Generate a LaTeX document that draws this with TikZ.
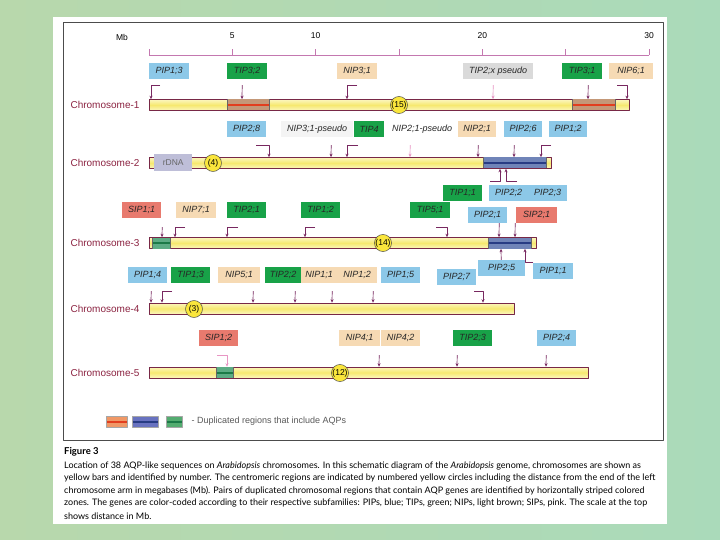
\documentclass[tikz,border=0pt]{standalone}
\usepackage{fontspec}
\setmainfont{Liberation Sans}
\newfontfamily\capfont{Lato}
\usetikzlibrary{arrows.meta}
\definecolor{bgleft}{RGB}{184,216,172}
\definecolor{bgright}{RGB}{170,218,186}
\definecolor{pipblue}{RGB}{140,200,232}
\definecolor{tipgreen}{RGB}{24,162,72}
\definecolor{niptan}{RGB}{246,218,180}
\definecolor{sippink}{RGB}{232,122,110}
\definecolor{pseudogray}{RGB}{218,218,218}
\definecolor{pseudolight}{RGB}{244,244,244}
\definecolor{rdnagray}{RGB}{190,190,216}
\definecolor{barpale}{RGB}{252,246,190}
\definecolor{baryellow}{RGB}{246,232,112}
\definecolor{barline}{RGB}{120,40,70}
\definecolor{chrred}{RGB}{140,36,66}
\definecolor{connc}{RGB}{120,40,96}
\definecolor{connpalec}{RGB}{232,150,196}
\definecolor{scalec}{RGB}{196,120,176}
\definecolor{cenyellow}{RGB}{250,230,60}
\definecolor{duporange}{RGB}{196,152,120}
\definecolor{stripeorange}{RGB}{226,62,30}
\definecolor{dupblue}{RGB}{112,132,184}
\definecolor{stripeblue}{RGB}{40,60,132}
\definecolor{dupgreen}{RGB}{92,172,132}
\definecolor{stripegreen}{RGB}{28,122,72}
\definecolor{legorange}{RGB}{240,152,102}
\definecolor{legblue}{RGB}{104,114,192}
\definecolor{leggreen}{RGB}{84,172,112}
\tikzset{
  gbox/.style={anchor=west, inner sep=0pt, minimum height=16, text=black!85,
    font=\fontsize{9}{10}\selectfont\itshape},
  pipbox/.style={gbox, fill=pipblue},
  tipbox/.style={gbox, fill=tipgreen},
  nipbox/.style={gbox, fill=niptan},
  sipbox/.style={gbox, fill=sippink},
  pseudobox/.style={gbox, fill=pseudogray},
  chrbar/.style={anchor=west, inner sep=0pt, minimum height=11, draw=barline, line width=0.6pt,
    top color=barpale, bottom color=barpale, middle color=baryellow},
  chrlabel/.style={anchor=east, text=chrred, font=\fontsize{10}{11}\selectfont},
  cenmark/.style={circle, inner sep=0pt, minimum size=17, fill=cenyellow, draw=black!70,
    line width=0.5pt, font=\fontsize{8.5}{9}\selectfont},
  conn/.style={->, draw=connc, line width=0.7pt},
  connpale/.style={->, draw=connpalec, line width=0.7pt},
  scaleln/.style={draw=scalec, line width=0.7pt},
  dupedge/.style={draw=black!60, line width=0.5pt},
  capline/.style={anchor=west, inner sep=0pt, font=\capfont\fontsize{9}{10}\selectfont}
}
\begin{document}
\begin{tikzpicture}[x=1pt, y=-1pt, line join=round, >={Stealth[length=3.5pt,width=3pt]}]
\useasboundingbox (0,0) rectangle (720,540);
% --- background and panel ---
\shade[left color=bgleft, right color=bgright] (0,0) rectangle (720,540);
\fill[white] (53,17) rectangle (667,524);
\draw[black!70, line width=0.6pt] (63,22) rectangle (663,440);

% --- scale in Mb ---
\draw[scaleln] (149,55) -- (649,55);
\foreach \m in {0,5,...,30} \draw[scaleln] (149+16.667*\m,55) -- ++(0,-6);
\foreach \m in {5,10,20,30} \node[font=\fontsize{8.5}{9}\selectfont] (mb\m) at (149+16.667*\m,36) {\m};
\node[font=\fontsize{8.5}{9}\selectfont] (mbunit) at (122,37) {Mb};

% --- Chromosome 1 ---
\node[chrlabel] (lbA) at (143,105) {Chromosome-1};
\node[chrbar, minimum width=480] (chrA) at (149,105) {};
\foreach \a/\b in {227/269,572/615}{
  \fill[duporange] (\a,99.5) rectangle (\b,110.5);
  \draw[stripeorange, line width=2pt] (\a,105) -- (\b,105);
  \draw[dupedge] (\a,99.5) -- (\a,110.5) (\b,99.5) -- (\b,110.5);
}
\node[cenmark] (cenA) at (399,105) {(15)};
\node[pipbox, minimum width=40] (pip13) at (149,71) {PIP1;3};
\node[tipbox, minimum width=40] (tip32) at (227,71) {TIP3;2};
\node[nipbox, minimum width=40] (nip31) at (337,71) {NIP3;1};
\node[pseudobox, minimum width=70] (tip2x) at (463,71) {TIP2;x pseudo};
\node[tipbox, minimum width=40] (tip31) at (562,71) {TIP3;1};
\node[nipbox, minimum width=44] (nip61) at (609,71) {NIP6;1};
\draw[conn] ([xshift=-9pt,yshift=-6pt]pip13.south) -| ([xshift=2pt]chrA.north west);
\draw[conn] ([xshift=-5pt,yshift=-6pt]tip32.south) -- ([xshift=93pt]chrA.north west);
\draw[conn] ([yshift=-6pt]nip31.south) -| ([xshift=198pt]chrA.north west);
\draw[connpale] ([xshift=-5pt,yshift=-6pt]tip2x.south) -- ([xshift=344pt]chrA.north west);
\draw[conn] ([xshift=6pt,yshift=-6pt]tip31.south) -- ([xshift=439pt]chrA.north west);
\draw[conn] ([xshift=-14pt,yshift=-6pt]nip61.south) -| ([xshift=478pt]chrA.north west);

% --- Chromosome 2 ---
\node[chrlabel] (lbB) at (143,163) {Chromosome-2};
\node[chrbar, minimum width=402] (chrB) at (149,163) {};
\fill[dupblue] (483,157.5) rectangle (546,168.5);
\draw[stripeblue, line width=2pt] (483,163) -- (546,163);
\draw[dupedge] (483,157.5) -- (483,168.5) (546,157.5) -- (546,168.5);
\node[anchor=west, fill=rdnagray, inner sep=0pt, minimum width=38, minimum height=17,
  text=black!60, font=\fontsize{8.5}{9}\selectfont] (rdna) at (154,163) {rDNA};
\node[cenmark] (cenB) at (213,163) {(4)};
\node[pipbox, minimum width=39] (pip28) at (227,129) {PIP2;8};
\node[gbox, fill=pseudolight, minimum width=72] (nip31p) at (281,129) {NIP3;1-pseudo};
\node[tipbox, minimum width=30] (tip4) at (354,129) {TIP4};
\node[gbox, fill=white, minimum width=66] (nip21p) at (389,129) {NIP2;1-pseudo};
\node[nipbox, minimum width=38] (nip21) at (458,129) {NIP2;1};
\node[pipbox, minimum width=38] (pip26) at (504,129) {PIP2;6};
\node[pipbox, minimum width=38] (pip12) at (549,129) {PIP1;2};
\node[pipbox, minimum width=39] (pip22) at (489,193) {PIP2;2};
\node[pipbox, minimum width=39] (pip23) at (528,193) {PIP2;3};
\draw[conn] ([xshift=9.5pt,yshift=-8pt]pip28.south) -| ([xshift=120pt]chrB.north west);
\draw[conn] ([xshift=14pt,yshift=-8pt]nip31p.south) -- ([xshift=182pt]chrB.north west);
\draw[conn] ([xshift=-11pt,yshift=-8pt]tip4.south) -| ([xshift=198pt]chrB.north west);
\draw[connpale] ([xshift=-12pt,yshift=-8pt]nip21p.south) -- ([xshift=261pt]chrB.north west);
\draw[conn] ([xshift=1pt,yshift=-8pt]nip21.south) -- ([xshift=329pt]chrB.north west);
\draw[conn] ([xshift=-9pt,yshift=-8pt]pip26.south) -- ([xshift=365pt]chrB.north west);
\draw[conn] ([xshift=-17pt,yshift=-8pt]pip12.south) -| ([xshift=392pt]chrB.north west);
\draw[conn] ([xshift=-18.5pt,yshift=3pt]pip22.north) -| ([xshift=351pt]chrB.south west);
\draw[conn] ([xshift=-30.5pt,yshift=3pt]pip23.north) -| ([xshift=357pt]chrB.south west);

% --- Chromosome 3 ---
\node[chrlabel] (lbC) at (143,243) {Chromosome-3};
\node[chrbar, minimum width=387] (chrC) at (149,243) {};
\fill[dupgreen] (152,237.5) rectangle (170,248.5);
\draw[stripegreen, line width=2pt] (152,243) -- (170,243);
\draw[dupedge] (152,237.5) -- (152,248.5) (170,237.5) -- (170,248.5);
\fill[dupblue] (488,237.5) rectangle (531,248.5);
\draw[stripeblue, line width=2pt] (488,243) -- (531,243);
\draw[dupedge] (488,237.5) -- (488,248.5) (531,237.5) -- (531,248.5);
\node[cenmark] (cenC) at (383,243) {(14)};
\node[sipbox, minimum width=39] (sip11) at (122,210) {SIP1;1};
\node[nipbox, minimum width=40] (nip71) at (176,210) {NIP7;1};
\node[tipbox, minimum width=39] (tip21) at (227,210) {TIP2;1};
\node[tipbox, minimum width=39] (tip12) at (301,210) {TIP1;2};
\node[tipbox, minimum width=40] (tip51) at (410,210) {TIP5;1};
\node[tipbox, minimum width=39] (tip11) at (443,193) {TIP1;1};
\node[pipbox, minimum width=39] (pip21) at (468,215) {PIP2;1};
\node[sipbox, minimum width=41] (sip21) at (516,215) {SIP2;1};
\node[pipbox, minimum width=47] (pip25) at (478,268) {PIP2;5};
\node[pipbox, minimum width=40] (pip11) at (533,271) {PIP1;1};
\draw[conn] ([xshift=20.5pt,yshift=-9pt]sip11.south) -- ([xshift=13pt]chrC.north west);
\draw[conn] ([xshift=-11pt,yshift=-9pt]nip71.south) -| ([xshift=26pt]chrC.north west);
\draw[conn] ([xshift=-8.5pt,yshift=-9pt]tip21.south) -| ([xshift=78pt]chrC.north west);
\draw[conn] ([xshift=-5.5pt,yshift=-9pt]tip12.south) -| ([xshift=156pt]chrC.north west);
\draw[conn] ([xshift=6pt,yshift=-9pt]tip51.south) -| ([xshift=298pt]chrC.north west);
\draw[conn] ([xshift=11.5pt]pip21.south) -- ([xshift=350pt]chrC.north west);
\draw[conn] ([xshift=-21.5pt]sip21.south) -- ([xshift=366pt]chrC.north west);
\draw[conn] ([xshift=-0.5pt]pip25.north) -- ([xshift=352pt]chrC.south west);
\draw[conn] (pip11.north west) -| ([xshift=376pt]chrC.south west);

% --- Chromosome 4 ---
\node[chrlabel] (lbD) at (143,308.5) {Chromosome-4};
\node[chrbar, minimum width=365] (chrD) at (149,308.5) {};
\node[cenmark] (cenD) at (194,309) {(3)};
\node[pipbox, minimum width=39] (pip14) at (128,275) {PIP1;4};
\node[tipbox, minimum width=39] (tip13) at (171,275) {TIP1;3};
\node[nipbox, minimum width=42] (nip51) at (218,275) {NIP5;1};
\node[tipbox, minimum width=36] (tip22) at (265,275) {TIP2;2};
\node[nipbox, minimum width=36] (nip11) at (301,275) {NIP1;1};
\node[nipbox, minimum width=40] (nip12) at (337,275) {NIP1;2};
\node[pipbox, minimum width=39] (pip15) at (381,275) {PIP1;5};
\node[pipbox, minimum width=39] (pip27) at (437,277) {PIP2;7};
\draw[conn] ([xshift=3.5pt,yshift=-8pt]pip14.south) -- ([xshift=2pt]chrD.north west);
\draw[conn] ([xshift=-18.5pt,yshift=-8pt]tip13.south) -| ([xshift=13pt]chrD.north west);
\draw[conn] ([xshift=14pt,yshift=-8pt]nip51.south) -- ([xshift=104pt]chrD.north west);
\draw[conn] ([xshift=12pt,yshift=-8pt]tip22.south) -- ([xshift=146pt]chrD.north west);
\draw[conn] ([xshift=13pt,yshift=-8pt]nip11.south) -- ([xshift=183pt]chrD.north west);
\draw[conn] ([xshift=16pt,yshift=-8pt]nip12.south) -- ([xshift=224pt]chrD.north west);
\draw[conn] ([xshift=17.5pt,yshift=-6pt]pip27.south) -| ([xshift=334pt]chrD.north west);

% --- Chromosome 5 ---
\node[chrlabel] (lbE) at (143,372.5) {Chromosome-5};
\node[chrbar, minimum width=439] (chrE) at (149,372.5) {};
\fill[dupgreen] (216,367) rectangle (233,378);
\draw[stripegreen, line width=2pt] (216,372.5) -- (233,372.5);
\draw[dupedge] (216,367) -- (216,378) (233,367) -- (233,378);
\node[cenmark] (cenE) at (340,373) {(12)};
\node[sipbox, minimum width=39] (sip12) at (199,338) {SIP1;2};
\node[nipbox, minimum width=41] (nip41) at (339,338) {NIP4;1};
\node[nipbox, minimum width=39] (nip42) at (381,338) {NIP4;2};
\node[tipbox, minimum width=39] (tip23) at (453,338) {TIP2;3};
\node[pipbox, minimum width=39] (pip24) at (537,338) {PIP2;4};
\draw[connpale] ([xshift=-1.5pt,yshift=-9pt]sip12.south) -| ([xshift=78pt]chrE.north west);
\draw[conn] ([xshift=19.5pt,yshift=-9pt]nip41.south) -- ([xshift=230pt]chrE.north west);
\draw[conn] ([xshift=-15.5pt,yshift=-9pt]tip23.south) -- ([xshift=308pt]chrE.north west);
\draw[conn] ([xshift=-10.5pt,yshift=-9pt]pip24.south) -- ([xshift=397pt]chrE.north west);

% --- legend ---
\foreach \a/\b/\f/\s in {106/127/legorange/stripeorange, 132/158/legblue/stripeblue, 166/182/leggreen/stripegreen}{
  \fill[\f] (\a,416) rectangle (\b,427);
  \draw[\s, line width=2pt] (\a,421.5) -- (\b,421.5);
  \draw[black!35, line width=0.4pt] (\a,416) rectangle (\b,427);
}
\node[anchor=west, text=black!65, font=\fontsize{9}{10}\selectfont] (legtxt) at (188,421.5)
  {- Duplicated regions that include AQPs};

% --- caption ---
\node[anchor=west, inner sep=0pt, font=\capfont\bfseries\fontsize{9.5}{10}\selectfont] (figlab) at (64,452) {Figure 3};
\node[capline] (cap1) at (64,466) {Location of 38 AQP-like sequences on \textit{Arabidopsis} chromosomes. In this schematic diagram of the \textit{Arabidopsis} genome, chromosomes are shown as};
\node[capline] (cap2) at (64,478.5) {yellow bars and identified by number. The centromeric regions are indicated by numbered yellow circles including the distance from the end of the left};
\node[capline] (cap3) at (64,491) {chromosome arm in megabases (Mb). Pairs of duplicated chromosomal regions that contain AQP genes are identified by horizontally striped colored};
\node[capline] (cap4) at (64,503.5) {zones. The genes are color-coded according to their respective subfamilies: PIPs, blue; TIPs, green; NIPs, light brown; SIPs, pink. The scale at the top};
\node[capline] (cap5) at (64,516) {shows distance in Mb.};
\end{tikzpicture}
\end{document}
